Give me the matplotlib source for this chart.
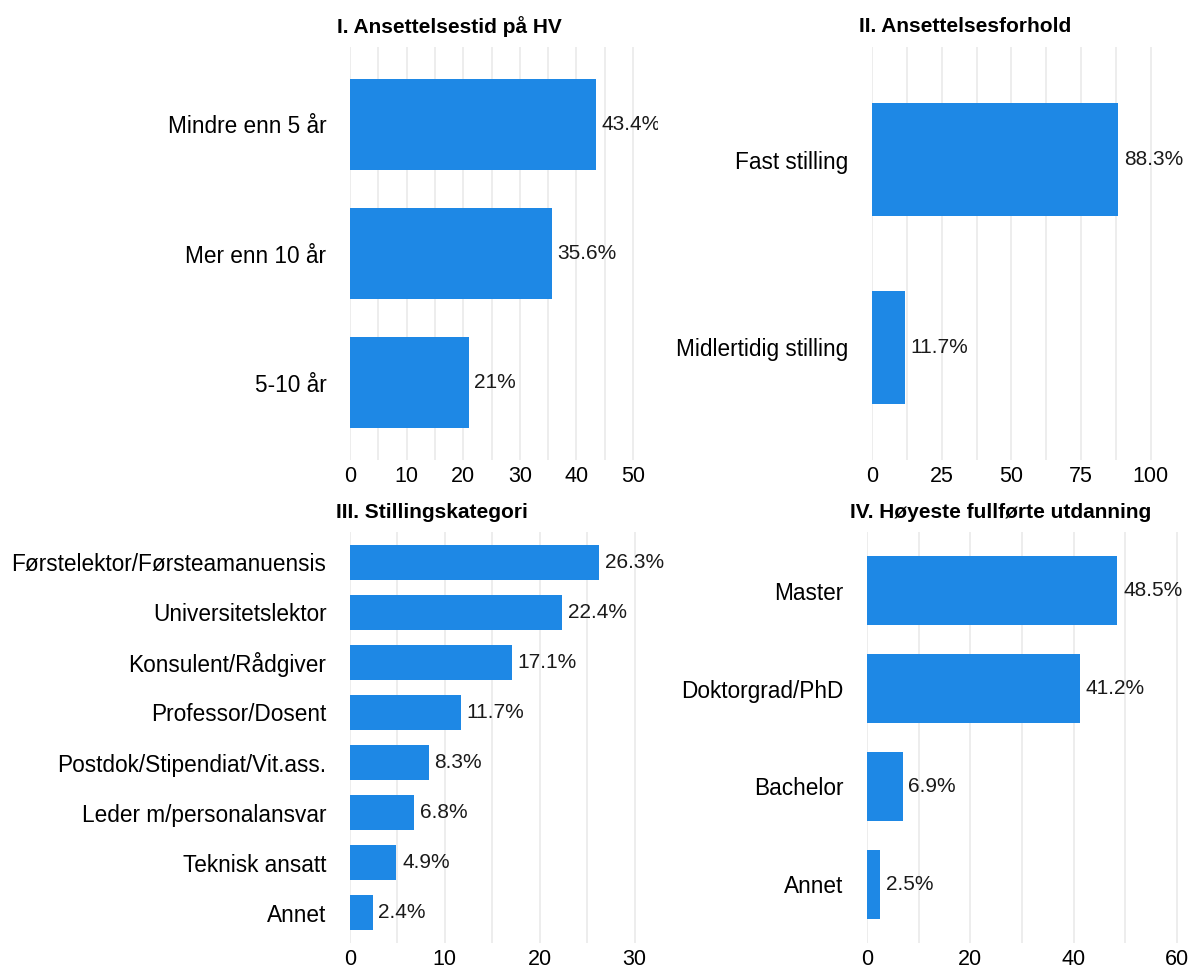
import matplotlib
matplotlib.use("Agg")
import matplotlib.pyplot as plt
import numpy as np

plt.rcParams['font.family'] = ['Liberation Sans', 'DejaVu Sans']

# data
cat1 = ["Mindre enn 5 år", "Mer enn 10 år", "5-10 år"]
val1 = [43.4, 35.6, 21.0]
lab1 = ["43.4%", "35.6%", "21%"]

cat2 = ["Fast stilling", "Midlertidig stilling"]
val2 = [88.3, 11.7]
lab2 = ["88.3%", "11.7%"]

cat3 = ["Førstelektor/Førsteamanuensis", "Universitetslektor", "Konsulent/Rådgiver",
        "Professor/Dosent", "Postdok/Stipendiat/Vit.ass.", "Leder m/personalansvar",
        "Teknisk ansatt", "Annet"]
val3 = [26.3, 22.4, 17.1, 11.7, 8.3, 6.8, 4.9, 2.4]
lab3 = ["26.3%", "22.4%", "17.1%", "11.7%", "8.3%", "6.8%", "4.9%", "2.4%"]

cat4 = ["Master", "Doktorgrad/PhD", "Bachelor", "Annet"]
val4 = [48.5, 41.2, 6.9, 2.5]
lab4 = ["48.5%", "41.2%", "6.9%", "2.5%"]

titles = ["I. Ansettelsestid på HV", "II. Ansettelsesforhold",
          "III. Stillingskategori", "IV. Høyeste fullførte utdanning"]

W, H = 1190, 968
BLUE = "#1e88e5"
GRID = "#ececec"

fig = plt.figure(figsize=(W / 100, H / 100), dpi=100)


def px_axes(left, right, top, bottom):
    return fig.add_axes([left / W, 1 - bottom / H, (right - left) / W, (bottom - top) / H])


# (cats, vals, labels, box, xmax, major, minor, bar height, clip, title center, title y)
panels = [
    (cat1, val1, lab1, (350, 658, 47, 460), 54.4, 10, 5, 0.70, True, 449, 27),
    (cat2, val2, lab2, (872, 1183, 47, 460), 111.5, 25, 12.5, 0.60, True, 965, 27),
    (cat3, val3, lab3, (350, 663, 532, 943), 33, 10, 5, 0.70, False, 432, 512),
    (cat4, val4, lab4, (867, 1182, 532, 943), 61, 20, 10, 0.70, False, 1001, 512),
]

for i, (cats, vals, labs, box, xmax, major, minor, bh, clip, tx, ty) in enumerate(panels):
    ax = px_axes(*box)
    y = np.arange(len(cats))
    ax.barh(y, vals, height=bh, color=BLUE, zorder=2)
    for yy, v, t in zip(y, vals, labs):
        ax.text(v + xmax * 0.018, yy, t, va="center", ha="left", fontsize=15,
                color="#1a1a1a", clip_on=clip)
    ax.set_yticks(y)
    ax.set_yticklabels(cats, fontsize=16.3)
    ax.set_ylim(len(cats) - 1 + 0.6, -0.6)
    ax.set_xlim(0, xmax)
    ax.set_xticks(np.arange(0, xmax, major))
    ax.set_xticks(np.arange(0, xmax, minor), minor=True)
    ax.tick_params(axis="x", which="both", length=0, labelsize=15.5, pad=4)
    ax.tick_params(axis="y", length=0, pad=17)
    ax.grid(axis="x", which="both", color=GRID, linewidth=1.3, zorder=0)
    ax.set_axisbelow(True)
    for s in ax.spines.values():
        s.set_visible(False)
    fig.text(tx / W, 1 - ty / H, titles[i], ha="center", va="center",
             fontsize=15, fontweight="bold")

fig.savefig("out.png", dpi=100)
